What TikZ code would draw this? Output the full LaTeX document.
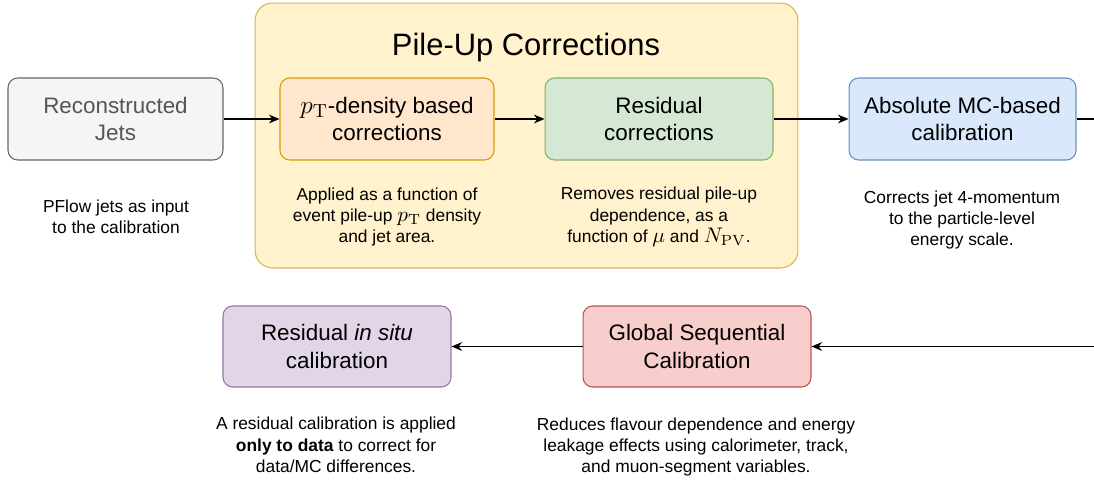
\documentclass[tikz,border=0pt]{standalone}
\usepackage[no-math]{fontspec}
\setmainfont{Liberation Sans}
\usetikzlibrary{arrows.meta}

\definecolor{recofill}{HTML}{F5F5F5}
\definecolor{recoline}{HTML}{666666}
\definecolor{recotext}{HTML}{555555}
\definecolor{pilefill}{HTML}{FFF2CC}
\definecolor{pileline}{HTML}{D6B656}
\definecolor{rhofill}{HTML}{FFE6CC}
\definecolor{rholine}{HTML}{D79B00}
\definecolor{resfill}{HTML}{D5E8D4}
\definecolor{resline}{HTML}{82B366}
\definecolor{absfill}{HTML}{DAE8FC}
\definecolor{absline}{HTML}{6C8EBF}
\definecolor{insitufill}{HTML}{E1D5E7}
\definecolor{insituline}{HTML}{9673A6}
\definecolor{gscfill}{HTML}{F8CECC}
\definecolor{gscline}{HTML}{B85450}

% math set a little larger than the text around it
\newcommand{\bigmth}[1]{\scalebox{1.2}{$#1$}}

\tikzset{
  stage/.style={draw, rounded corners=5.5pt, minimum height=1.64cm, align=center,
    line width=0.6pt, inner sep=0pt, font=\fontsize{12.75}{15.9}\selectfont},
  note/.style={align=center, font=\fontsize{9.9}{12.2}\selectfont},
  flow/.style={-{Stealth[length=6pt,width=5pt]}, line width=0.6pt}
}

\begin{document}
\begin{tikzpicture}[x=0.02cm,y=-0.02cm]
        \useasboundingbox (0,0) rectangle (1094,484);

        % pile-up group
        \node[draw=pileline, fill=pilefill, rounded corners=10pt, line width=0.6pt,
              minimum width=10.86cm, minimum height=5.3cm] (pileup) at (526.5,135.5) {};
        \node[font=\fontsize{17.6}{20}\selectfont] (piletitle) at (526,48) {Pile-Up Corrections};

        \node[stage, draw=recoline, fill=recofill, text=recotext, minimum width=4.3cm] (reco) at (115.5,119) {Reconstructed\\Jets};
        \node[stage, draw=rholine, fill=rhofill, minimum width=4.28cm] (rho) at (387,119) {\bigmth{p_\mathrm{T}}-density based\\corrections};
        \node[stage, draw=resline, fill=resfill, minimum width=4.56cm] (res) at (659,119) {Residual\\corrections};
        \node[stage, draw=absline, fill=absfill, minimum width=4.54cm] (abs) at (962.5,119) {Absolute MC-based\\calibration};
        \node[stage, draw=gscline, fill=gscfill, minimum width=4.56cm, minimum height=1.62cm] (gsc) at (697,346.5) {Global Sequential\\Calibration};
        \node[stage, draw=insituline, fill=insitufill, minimum width=4.56cm, minimum height=1.62cm] (insitu) at (337,346.5) {Residual \textit{in situ}\\calibration};

        \node[note] (reconote) at (116,217) {PFlow jets as input\\to the calibration};
        \node[note] (rhonote) at (387,217) {Applied as a function of\\event pile-up \bigmth{p_\mathrm{T}} density\\and jet area.};
        \node[note] (resnote) at (659,217) {Removes residual pile-up\\dependence, as a\\function of \bigmth{\mu} and \bigmth{N_\mathrm{PV}}.};
        \node[note] (absnote) at (962,220) {Corrects jet 4-momentum\\to the particle-level\\energy scale.};
        \node[note] (insitunote) at (336,445) {A residual calibration is applied\\\textbf{only to data} to correct for\\data/MC differences.};
        \node[note] (gscnote) at (696,447) {Reduces flavour dependence and energy\\leakage effects using calorimeter, track,\\and muon-segment variables.};

        \coordinate (turntop) at (1110,119);
        \coordinate (turnbot) at (1110,346.5);

        \draw[flow] (reco) -- (rho);
        \draw[flow] (rho) -- (res);
        \draw[flow] (res) -- (abs);
        \draw[flow] (abs.east) -- (turntop) -- (turnbot) -- (gsc.east);
        \draw[flow] (gsc) -- (insitu);

    \end{tikzpicture}
\end{document}
